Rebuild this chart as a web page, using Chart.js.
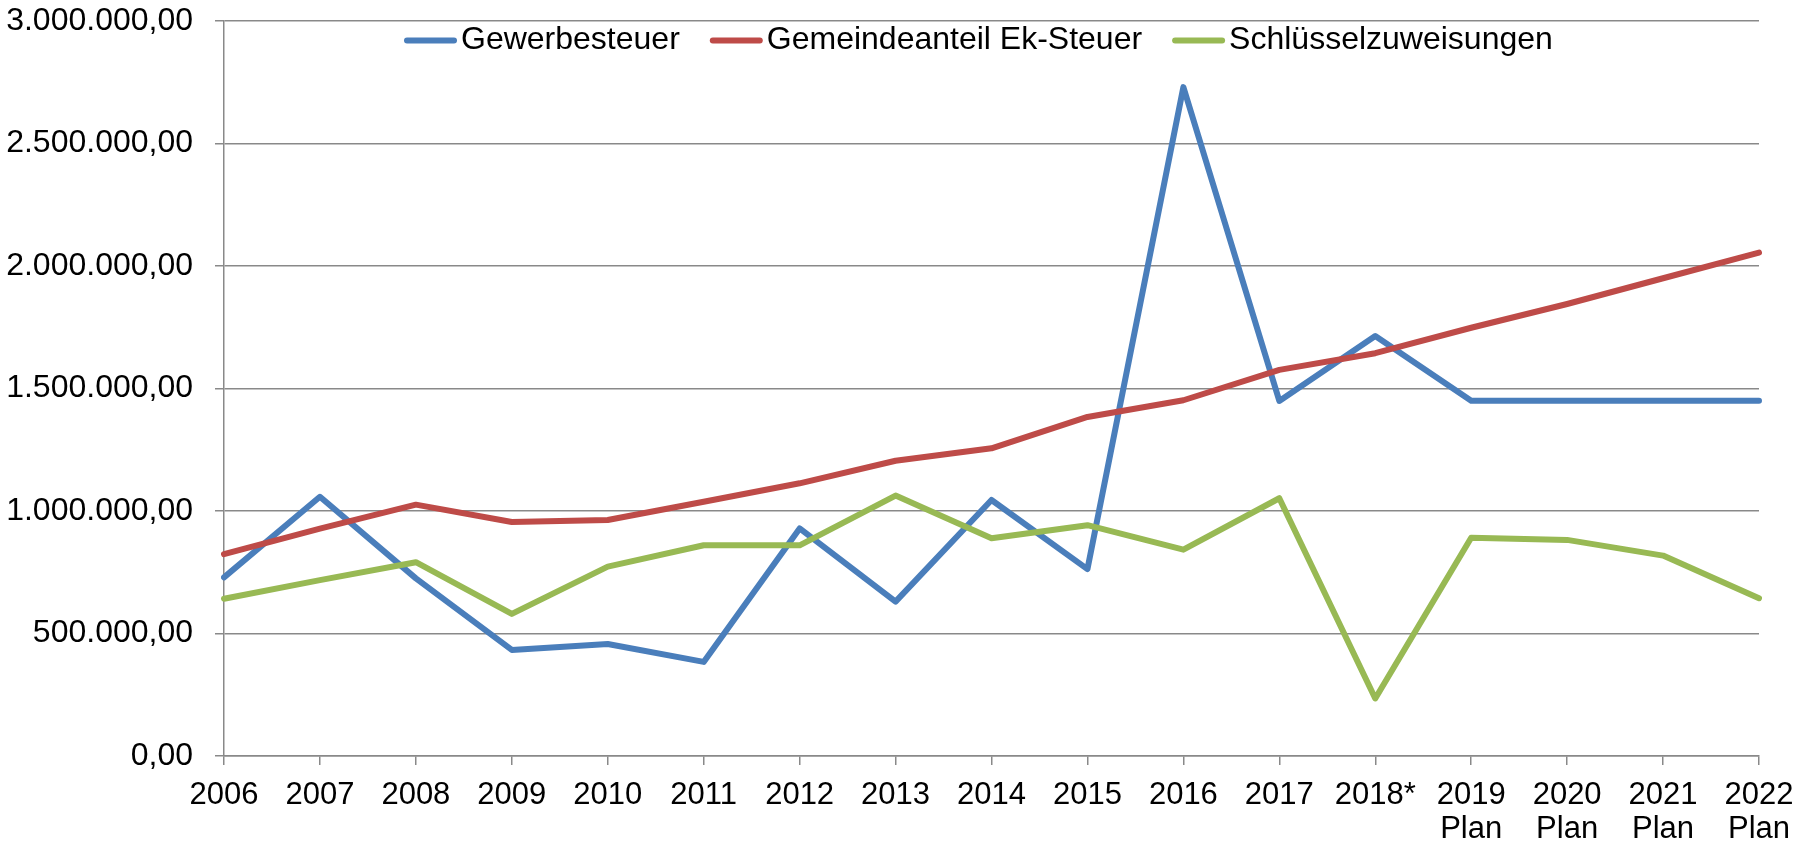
<!DOCTYPE html>
<html lang="de">
<head>
<meta charset="utf-8">
<title>Steuereinnahmen</title>
<script src="https://cdn.jsdelivr.net/npm/chart.js@4/dist/chart.umd.min.js"></script>
<style>
    body { margin: 0; background: #fff; }
    #box { width: 1816px; height: 847px; }
</style>
</head>
<body>
<div id="box"><canvas id="grafik"></canvas></div>
<script>
// Jahre (x-Achse)
const jahre = ['2006', '2007', '2008', '2009', '2010', '2011', '2012', '2013', '2014',
    '2015', '2016', '2017', '2018*', ['2019', 'Plan'], ['2020', 'Plan'], ['2021', 'Plan'], ['2022', 'Plan']];

// Werte in Euro
const gewerbesteuer = [729000, 1058000, 725000, 433000, 457000, 384000, 929000, 630000, 1045000,
    763000, 2730000, 1449000, 1714000, 1450000, 1450000, 1450000, 1450000];
const einkommensteuer = [824000, 928000, 1026000, 955000, 963000, 1038000, 1113000, 1205000, 1256000,
    1384000, 1452000, 1576000, 1644000, 1748000, 1845000, 1950000, 2055000];
const schluessel = [642000, 718000, 791000, 580000, 773000, 860000, 860000, 1063000, 889000,
    942000, 842000, 1052000, 235000, 891000, 882000, 818000, 644000];

const namen = ['Gewerbesteuer', 'Gemeindeanteil Ek-Steuer', 'Schlüsselzuweisungen'];
const farben = ['#4a7ebb', '#be4b48', '#98b954'];

const schrift = 'Arial, "Liberation Sans", sans-serif';
const gitter = '#898989';

// Zahl im deutschen Format: 1.500.000,00
function formatDE(v) {
    const ganz = Math.round(v).toString().replace(/\B(?=(\d{3})+(?!\d))/g, '.');
    return ganz + ',00';
}

// Legende wird direkt in den Plotbereich gezeichnet (wie im Original)
const legendePlugin = {
    id: 'legendeOben',
    afterDatasetsDraw(chart) {
        const ctx = chart.ctx;
        ctx.save();
        ctx.font = '32px ' + schrift;
        ctx.textBaseline = 'middle';
        let x = 404;
        const y = 40.5;
        chart.data.datasets.forEach(ds => {
            ctx.strokeStyle = ds.borderColor;
            ctx.lineWidth = 6;
            ctx.lineCap = 'round';
            ctx.beginPath();
            ctx.moveTo(x + 3, y);
            ctx.lineTo(x + 50, y);
            ctx.stroke();
            ctx.fillStyle = '#000';
            ctx.fillText(ds.label, x + 57, y);
            x += 57 + ctx.measureText(ds.label).width + 30;
        });
        ctx.restore();
    }
};

const reihen = [gewerbesteuer, einkommensteuer, schluessel];

const ctx = document.getElementById('grafik').getContext('2d');
const grafik = new Chart(ctx, {
    type: 'line',
    data: {
        labels: jahre,
        datasets: reihen.map((werte, i) => ({
            label: namen[i],
            data: werte,
            borderColor: farben[i],
            backgroundColor: farben[i],
            borderWidth: 6,
            borderCapStyle: 'round',
            borderJoinStyle: 'round',
            pointRadius: 0,
            tension: 0,
            fill: false,
            order: 3 - i
        }))
    },
    options: {
        responsive: true,
        maintainAspectRatio: false,
        animation: false,
        layout: {
            padding: { top: 21, right: 57, bottom: 0, left: 0 }
        },
        plugins: {
            legend: { display: false },
            tooltip: { enabled: false }
        },
        scales: {
            x: {
                offset: false,
                grid: {
                    drawOnChartArea: false,
                    drawTicks: true,
                    tickLength: 9,
                    color: gitter,
                    lineWidth: 1.5
                },
                border: { display: true, color: gitter, width: 1.5 },
                ticks: {
                    color: '#000',
                    font: { family: schrift, size: 31, lineHeight: 1.08 },
                    padding: 14,
                    maxRotation: 0,
                    autoSkip: false
                },
                afterFit(scale) {
                    scale.height = 91;
                    scale.paddingLeft = 0;
                    scale.paddingRight = 0;
                }
            },
            y: {
                min: 0,
                max: 3000000,
                grid: {
                    color: gitter,
                    lineWidth: 1.5,
                    tickLength: 9
                },
                border: { display: true, color: gitter, width: 1.5 },
                ticks: {
                    stepSize: 500000,
                    color: '#000',
                    font: { family: schrift, size: 32 },
                    padding: 22,
                    callback: v => formatDE(v)
                },
                afterFit(scale) {
                    scale.width = 224;
                    scale.paddingTop = 0;
                    scale.paddingBottom = 0;
                }
            }
        }
    },
    plugins: [legendePlugin]
});
</script>
</body>
</html>
